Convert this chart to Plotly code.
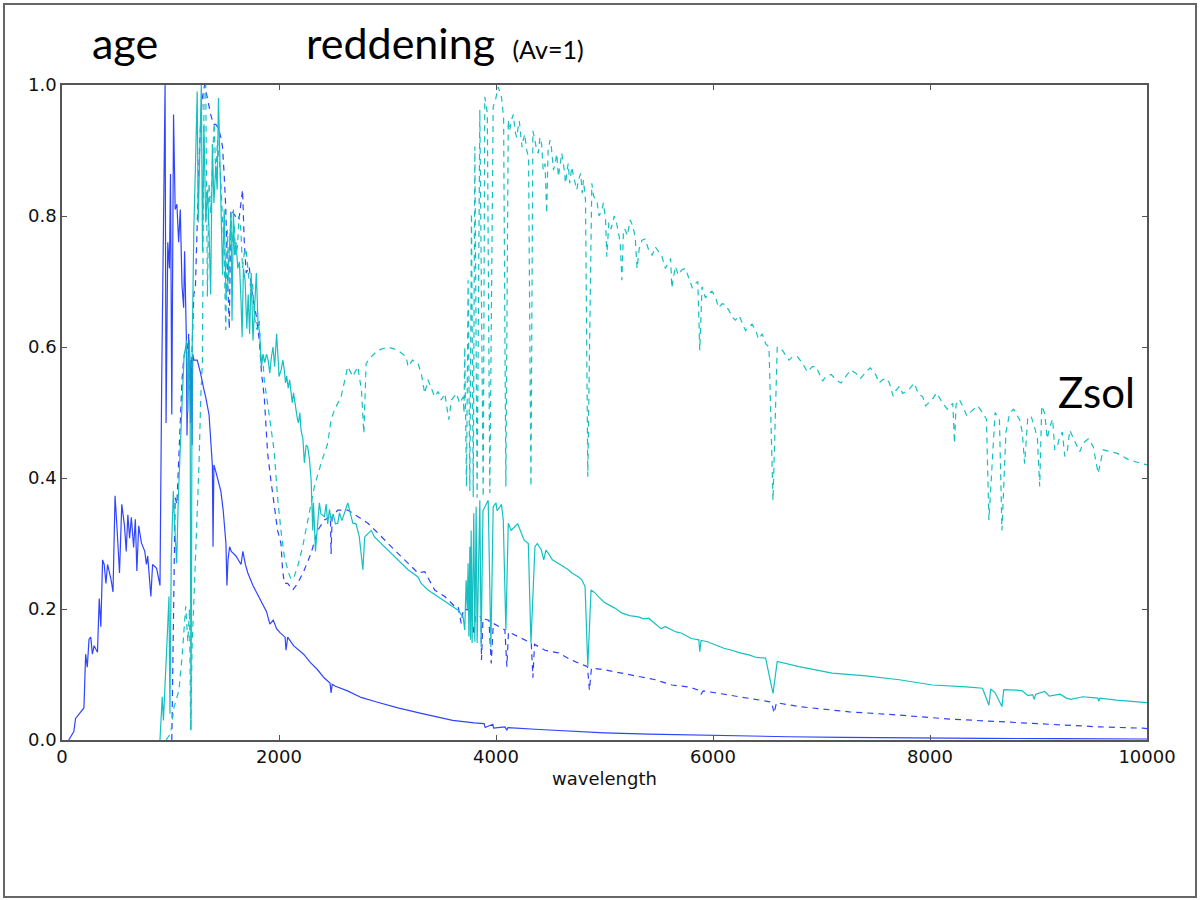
import plotly.graph_objects as go

# ---------------- data ----------------
blue_solid_wl = [62,109,125,202,218,233,249,265,280,296,327,343,358,374,389,405,420,452,470,489,508,530,551,576,592,607,623,639,660,676,690,707,732,763,778,790,819,835,872,888,903,
                 919,935,950,959,975,990,1000,1012,1028,1043,1059,1075,1090,1106,1121,1130,1146,1152,1168,1178,1184,1190,1199,1205,1215,1246,1277,1308,1324,1355,1386,1392,1400,1417,1440,1464,1486,1511,1520,1530,1545,1560,1604,1650,1667,1690,1713,1760,1822,1885,1916,1947,1978,2009,2056,2065,2080,2134,2227,2290,2352,2415,2470,2480,2490,2520,2632,2757,2900,3096,3300,3466,3600,3800,3890,3900,3970,3978,4082,4100,4110,4400,4695,5000,5407,5776,6200,6700,7200,7800,8500,9200,10000]
blue_solid_flux = [0.0,0.013,0.033,0.049,0.131,0.111,0.154,0.157,0.131,0.144,0.134,0.216,0.173,0.275,0.268,0.239,0.268,0.245,0.226,0.373,0.321,0.255,0.36,0.327,0.288,0.344,0.308,0.34,0.294,0.337,0.258,0.327,0.301,0.288,0.268,0.281,0.219,0.268,0.262,0.249,0.236,
                   0.55,0.81,1.0,0.484,0.76,0.72,0.864,0.497,0.955,0.81,0.818,0.76,0.81,0.694,0.66,0.746,0.615,0.465,0.615,0.576,0.484,0.58,0.45,0.589,0.58,0.58,0.56,0.535,0.524,0.497,0.419,0.295,0.42,0.41,0.395,0.38,0.35,0.30,0.236,0.275,0.295,0.288,0.281,0.268,0.288,0.268,0.255,0.236,0.216,0.196,0.177,0.183,0.17,0.164,0.157,0.137,0.157,0.144,0.131,0.118,0.108,0.095,0.087,0.072,0.085,0.082,0.075,0.065,0.058,0.049,0.041,0.035,0.030,0.026,0.025,0.019,0.024,0.018,0.020,0.015,0.019,0.016,0.013,0.011,0.009,0.0076,0.006,0.005,0.004,0.003,0.0025,0.002,0.0015]

blue_dashed_wl = [1012,1028,1043,1059,1075,1090,1106,1121,1137,1152,1168,1184,1199,1215,1230,1246,1262,1277,1293,1315,1330,1346,1370,1395,1417,1440,1464,1479,1494,1509,1525,1542,1556,1573,1601,1620,1635,1664,1680,1698,1725,1756,1787,1818,1839,1864,1895,1925,1956,1987,2018,2033,2049,2080,2126,2172,2234,2295,2357,2418,2474,2480,2490,2542,2634,2726,2819,2911,3004,3096,3189,3281,3343,3435,3528,3620,3651,3679,3700,3771,3797,3810,3863,3866,3880,3935,3956,3975,4082,4100,4115,4205,4325,4340,4355,4452,4575,4695,4843,4861,4880,5006,5157,5314,5468,5619,5776,5869,5890,5910,6331,6540,6563,6585,6793,7255,7717,8179,8641,9104,9566,9963,10000]
blue_dashed_flux = [0.0,0.2,0.37,0.36,0.42,0.5,0.55,0.58,0.60,0.59,0.62,0.517,0.60,0.68,0.694,0.81,0.877,0.94,0.98,1.0,0.99,0.975,0.955,0.94,0.94,0.935,0.92,0.906,0.865,0.814,0.712,0.628,0.81,0.805,0.799,0.794,0.80,0.84,0.76,0.713,0.723,0.677,0.651,0.611,0.56,0.524,0.438,0.397,0.361,0.32,0.30,0.26,0.239,0.239,0.229,0.239,0.26,0.285,0.32,0.336,0.341,0.284,0.341,0.351,0.351,0.341,0.331,0.316,0.30,0.285,0.27,0.255,0.257,0.229,0.219,0.204,0.204,0.178,0.20,0.198,0.16,0.19,0.188,0.122,0.185,0.183,0.117,0.178,0.168,0.112,0.165,0.158,0.148,0.095,0.146,0.137,0.133,0.122,0.112,0.076,0.11,0.107,0.102,0.096,0.092,0.084,0.081,0.076,0.07,0.075,0.064,0.058,0.041,0.057,0.051,0.043,0.038,0.032,0.028,0.024,0.020,0.018,0.0175]

cyan_solid_wl = [903,924,935,955,970,986,995,1007,1026,1041,1057,1072,1094,1109,1125,1140,1149,1160,1172,1180,1189,1200,1215,1230,1246,1255,1270,1284,1295,1308,1325,1340,1355,1370,1386,1400,1417,1430,1442,1455,1467,1480,1495,1511,1526,1542,1558,1567,1580,1590,1604,1620,1635,1650,1660,1672,1688,1703,1716,1729,1744,1760,1775,1791,1806,1822,1838,1853,1869,1885,1900,1930,1960,1978,1994,2020,2049,2071,2085,2110,2134,2157,2180,2203,2220,2234,2250,2264,2280,2296,2311,2318,2336,2357,2372,2387,2418,2435,2449,2465,2480,2500,2520,2542,2557,2580,2610,2634,2660,2680,2710,2740,2773,2790,2820,2850,2880,2911,3004,3096,3189,3281,3311,3373,3466,3558,3651,3697,3712,3725,3735,3743,3750,3759,3765,3771,3780,3795,3805,3817,3826,3851,3863,3880,3897,3928,3953,3974,4000,4036,4067,4091,4113,4174,4233,4298,4322,4359,4418,4440,4483,4575,4667,4760,4821,4846,4876,4944,5065,5157,5314,5407,5468,5561,5619,5712,5869,5878,5890,6023,6174,6331,6485,6553,6592,6793,7098,7409,7717,8022,8334,8484,8543,8560,8663,8680,8750,8796,8947,8960,8975,9057,9165,9257,9408,9547,9555,9565,9720,9963,10000]
cyan_solid_flux = [0.0,0.066,0.03,0.117,0.158,0.219,0.04,0.28,0.38,0.32,0.27,0.37,0.473,0.524,0.585,0.6,0.61,0.5,0.61,0.58,0.015,0.6,0.78,0.877,0.99,0.79,0.91,1.0,0.746,0.94,0.79,0.84,0.78,0.68,0.91,0.82,0.877,0.84,0.98,0.877,0.81,0.71,0.81,0.68,0.69,0.76,0.805,0.64,0.81,0.74,0.76,0.72,0.73,0.67,0.615,0.72,0.70,0.628,0.68,0.62,0.713,0.61,0.67,0.713,0.64,0.62,0.57,0.589,0.576,0.589,0.58,0.585,0.57,0.62,0.576,0.565,0.565,0.556,0.537,0.53,0.53,0.504,0.484,0.473,0.46,0.423,0.45,0.448,0.43,0.397,0.32,0.362,0.288,0.341,0.362,0.345,0.341,0.36,0.33,0.352,0.336,0.345,0.33,0.331,0.347,0.335,0.35,0.362,0.345,0.331,0.33,0.31,0.26,0.31,0.315,0.32,0.31,0.305,0.29,0.275,0.26,0.249,0.239,0.229,0.219,0.209,0.198,0.188,0.168,0.244,0.2,0.27,0.158,0.295,0.153,0.32,0.148,0.346,0.15,0.356,0.148,0.366,0.142,0.35,0.356,0.366,0.142,0.356,0.362,0.356,0.336,0.168,0.331,0.326,0.316,0.30,0.148,0.295,0.29,0.275,0.285,0.27,0.26,0.249,0.234,0.112,0.229,0.219,0.204,0.194,0.188,0.186,0.178,0.173,0.168,0.163,0.153,0.135,0.152,0.145,0.137,0.13,0.125,0.071,0.12,0.112,0.102,0.098,0.092,0.084,0.081,0.079,0.053,0.078,0.051,0.077,0.077,0.076,0.069,0.062,0.07,0.074,0.069,0.064,0.066,0.064,0.059,0.064,0.061,0.058,0.057]
# small-scale wiggles (cyan solid)
cyan_solid_extra_wl = [1915,1945,2000,2035,2060,2098,2122,2145,2170,2192,4010,4050,4140,4200,4260,4380,4460,4520,4620,4700,4790,4910,5000,5110,5230,5360,5520,5660,5800,5950,6100,6250,6400,8600,8850,8900,9100,9200,9300]
cyan_solid_extra_flux = [0.56,0.6,0.555,0.58,0.545,0.55,0.515,0.52,0.49,0.5,0.35,0.36,0.32,0.33,0.305,0.30,0.29,0.275,0.265,0.255,0.245,0.225,0.21,0.2,0.19,0.185,0.17,0.165,0.155,0.15,0.14,0.133,0.126,0.072,0.075,0.068,0.067,0.07,0.062]

cyan_dashed_wl = [960,1001,1032,1078,1109,1140,1160,1175,1186,1200,1217,1241,1263,1279,1294,1302,1309,1325,1340,1355,1371,1402,1418,1433,1463,1494,1509,1525,1556,1587,1617,1648,1679,1710,1740,1772,1802,1833,1864,1895,1925,1956,1987,2018,2049,2080,2110,2141,2172,2218,2264,2326,2387,2449,2480,2511,2572,2603,2634,2680,2726,2760,2782,2803,2850,2911,3004,3096,3173,3189,3230,3281,3311,3343,3373,3404,3435,3466,3496,3528,3565,3589,3635,3666,3697,3705,3712,3728,3743,3759,3774,3790,3805,3826,3851,3882,3897,3920,3943,3974,3995,4020,4050,4070,4091,4113,4143,4175,4205,4230,4251,4282,4322,4359,4390,4420,4452,4467,4498,4520,4544,4575,4606,4630,4652,4698,4730,4760,4806,4825,4846,4883,4929,4975,5010,5021,5040,5090,5129,5160,5191,5237,5283,5300,5345,5407,5468,5530,5591,5620,5653,5714,5776,5838,5878,5899,5961,6023,6084,6146,6207,6269,6331,6392,6454,6485,6516,6553,6592,6639,6731,6824,6916,6978,7039,7132,7224,7317,7409,7502,7563,7625,7686,7748,7800,7856,7890,7933,8025,8118,8210,8226,8240,8303,8395,8488,8543,8600,8663,8734,8826,8872,8900,8960,9011,9057,9104,9150,9196,9242,9288,9335,9411,9504,9550,9596,9720,9843,9966,10000]
cyan_dashed_flux = [0.0,0.01,0.05,0.076,0.132,0.204,0.15,0.2,0.015,0.15,0.219,0.32,0.423,0.524,0.575,0.8,0.992,1.0,0.677,0.85,0.804,0.942,0.86,0.916,0.855,0.753,0.626,0.779,0.804,0.789,0.753,0.779,0.743,0.723,0.692,0.651,0.626,0.575,0.55,0.509,0.478,0.44,0.37,0.32,0.28,0.26,0.245,0.25,0.265,0.295,0.335,0.387,0.422,0.453,0.489,0.504,0.524,0.545,0.57,0.555,0.57,0.534,0.468,0.575,0.585,0.595,0.60,0.595,0.585,0.57,0.58,0.575,0.56,0.529,0.55,0.537,0.524,0.532,0.519,0.529,0.489,0.519,0.529,0.514,0.524,0.499,0.60,0.387,0.702,0.38,0.804,0.371,0.906,0.37,0.962,0.371,0.982,0.957,0.377,0.967,0.977,0.997,0.982,0.95,0.387,0.947,0.947,0.93,0.936,0.92,0.916,0.901,0.387,0.916,0.896,0.91,0.88,0.804,0.916,0.89,0.88,0.86,0.896,0.87,0.865,0.875,0.85,0.855,0.855,0.824,0.402,0.85,0.824,0.809,0.794,0.738,0.79,0.80,0.774,0.702,0.779,0.794,0.768,0.72,0.763,0.748,0.753,0.738,0.728,0.69,0.723,0.718,0.707,0.697,0.595,0.692,0.682,0.677,0.666,0.656,0.641,0.636,0.631,0.626,0.62,0.605,0.60,0.366,0.60,0.595,0.585,0.575,0.57,0.56,0.555,0.55,0.555,0.56,0.562,0.557,0.55,0.545,0.534,0.529,0.534,0.545,0.529,0.524,0.521,0.514,0.514,0.453,0.512,0.509,0.504,0.499,0.336,0.50,0.32,0.499,0.489,0.422,0.49,0.48,0.387,0.499,0.478,0.443,0.463,0.433,0.473,0.458,0.453,0.448,0.407,0.443,0.438,0.427,0.422,0.42]
# small-scale wiggles (cyan dashed)
cyan_dashed_extra_wl = [1386,1448,1478,1540,1570,1600,1632,1664,1695,1725,1756,1787,1818,1848,
                        4125,4160,4190,4215,4240,4265,4300,4340,4375,4405,4435,4480,4510,4530,4560,4590,4620,4640,4665,4680,4715,4745,4780,4795,4900,4950,4990,5060,5110,5145,5175,5210,5260,5320,5375,5440,5500,5560,5610,5680,5745,5810,5860,5930,5990,6050,6110,6180,6240,6300,6360,6420,6700,6780,6870,6950,7010,7090,7180,7270,7360,7450,7530,7600,7660,7720,7960,8060,8160,8270,8340,8440,8520,8640,8700,8770,8850,8930,8990,9030,9080,9130,9175,9220,9265,9310,9380,9460]
cyan_dashed_extra_flux = [0.88,0.89,0.80,0.70,0.76,0.74,0.80,0.72,0.75,0.70,0.70,0.63,0.64,0.59,
                          0.93,0.955,0.92,0.945,0.905,0.925,0.89,0.93,0.90,0.92,0.87,0.90,0.905,0.87,0.895,0.875,0.88,0.85,0.88,0.85,0.86,0.84,0.865,0.835,0.83,0.80,0.82,0.78,0.79,0.76,0.78,0.77,0.785,0.75,0.765,0.74,0.745,0.72,0.735,0.71,0.72,0.69,0.70,0.675,0.685,0.66,0.665,0.645,0.648,0.625,0.635,0.612,0.58,0.585,0.562,0.57,0.548,0.558,0.545,0.565,0.552,0.568,0.545,0.552,0.525,0.54,0.51,0.53,0.505,0.52,0.495,0.51,0.49,0.49,0.47,0.505,0.47,0.495,0.46,0.51,0.46,0.49,0.45,0.47,0.44,0.465,0.44,0.46]

x_ticks = [0, 2000, 4000, 6000, 8000, 10000]
y_ticks = [0.0, 0.2, 0.4, 0.6, 0.8, 1.0]


def merged(wl, fl, wl2, fl2):
    pairs = sorted(zip(list(wl) + list(wl2), list(fl) + list(fl2)), key=lambda p: p[0])
    return [p[0] for p in pairs], [p[1] for p in pairs]


cs_x, cs_y = merged(cyan_solid_wl, cyan_solid_flux, cyan_solid_extra_wl, cyan_solid_extra_flux)
cd_x, cd_y = merged(cyan_dashed_wl, cyan_dashed_flux, cyan_dashed_extra_wl, cyan_dashed_extra_flux)

BLUE = "#2f44ff"
CYAN = "#14c0c2"
DASH = "6px,5px"

fig = go.Figure()
fig.add_trace(go.Scatter(x=blue_solid_wl, y=blue_solid_flux, mode="lines",
                         line=dict(color=BLUE, width=1.2), showlegend=False))
fig.add_trace(go.Scatter(x=blue_dashed_wl, y=blue_dashed_flux, mode="lines",
                         line=dict(color=BLUE, width=1.2, dash=DASH), showlegend=False))
fig.add_trace(go.Scatter(x=cs_x, y=cs_y, mode="lines",
                         line=dict(color=CYAN, width=1.2), showlegend=False))
fig.add_trace(go.Scatter(x=cd_x, y=cd_y, mode="lines",
                         line=dict(color=CYAN, width=1.2, dash=DASH), showlegend=False))

L, R, T, B = 62, 54, 85, 160
W, H = 1201, 900
pw, ph = W - L - R, H - T - B


def px(x):
    return (x - L) / pw


def py(y):
    return (H - B - y) / ph


axis_common = dict(showgrid=False, zeroline=False, showline=True, linecolor="#555555",
                   linewidth=1.5, mirror="ticks", ticks="inside", ticklen=5,
                   tickcolor="#555555", tickfont=dict(family="DejaVu Sans", size=18, color="#111111"))

fig.update_layout(
    width=W, height=H,
    margin=dict(l=L, r=R, t=T, b=B),
    paper_bgcolor="white", plot_bgcolor="white",
    xaxis=dict(range=[0, 10000], tickvals=x_ticks, ticktext=[str(v) for v in x_ticks],
               title=dict(text="wavelength", font=dict(family="DejaVu Sans", size=18, color="#111111"), standoff=6),
               **axis_common),
    yaxis=dict(range=[0, 1.0], tickvals=y_ticks, ticktext=["%.1f" % v for v in y_ticks],
               **axis_common),
    annotations=[
        dict(text="age", xref="paper", yref="paper", x=px(90), y=py(43), xanchor="left", yanchor="middle",
             showarrow=False, font=dict(family="Lato", size=43, color="black")),
        dict(text="reddening <span style='font-size:25px'> (Av=1)</span>", xref="paper", yref="paper",
             x=px(304), y=py(43), xanchor="left", yanchor="middle",
             showarrow=False, font=dict(family="Lato", size=43, color="black")),
        dict(text="Zsol", xref="paper", yref="paper", x=px(1056), y=py(392), xanchor="left", yanchor="middle",
             showarrow=False, font=dict(family="Lato", size=42, color="black")),
    ],
    shapes=[dict(type="rect", xref="paper", yref="paper", x0=px(4), x1=px(1196), y0=py(897), y1=py(4),
                 line=dict(color="#666666", width=2), fillcolor="rgba(0,0,0,0)", layer="below")],
)

fig.write_html("out.html")
